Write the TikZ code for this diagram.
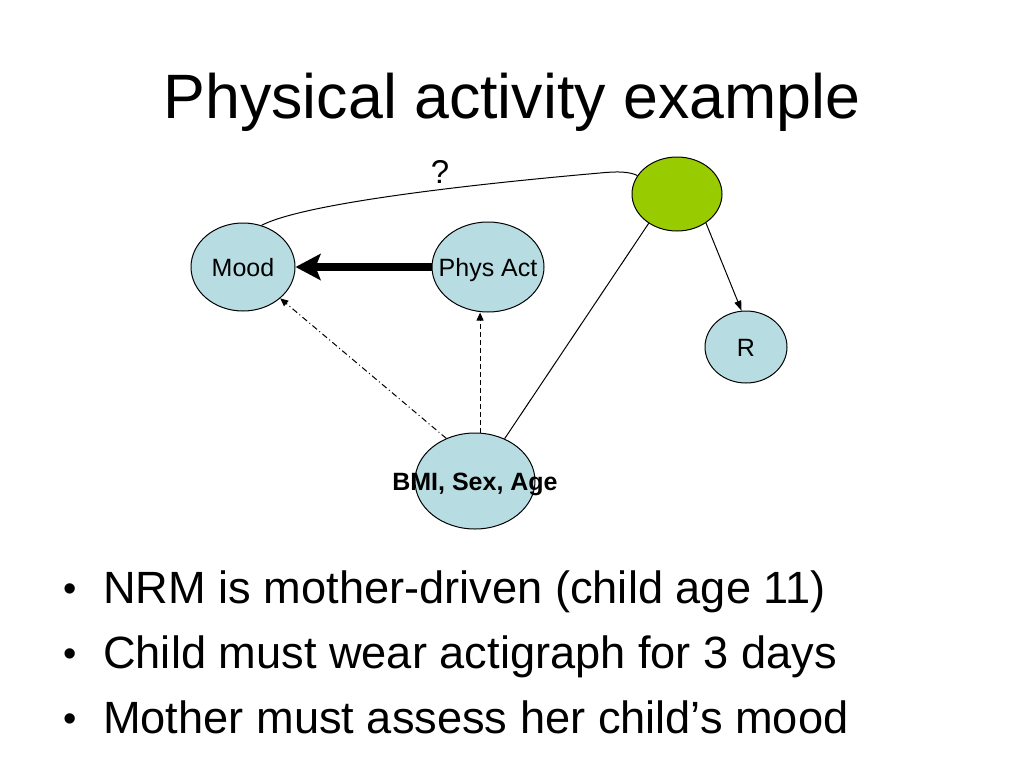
\documentclass[tikz,border=0pt]{standalone}
\usepackage{fontspec}
\setmainfont{Liberation Sans}
\usetikzlibrary{shapes.geometric,arrows.meta}
\definecolor{nodeblue}{RGB}{183,221,226}
\definecolor{nodegreen}{RGB}{153,204,0}
\begin{document}
\begin{tikzpicture}[x=1pt,y=1pt,
  bub/.style={draw,ellipse,fill=nodeblue,line width=1pt,inner sep=0pt},
  every label/.style={font=\fontsize{25}{30}\selectfont,text height=18pt,text depth=0pt,inner sep=0pt},
  link/.style={line width=1pt},
  tip/.style={-{Triangle[length=8pt,width=7pt]}},
  bul/.style={font=\fontsize{45.2}{50}\selectfont},
  dot/.style={font=\fontsize{38}{44}\selectfont}]
\useasboundingbox (0,0) rectangle (1024,-768);
\node [anchor=base,font=\fontsize{62.7}{70}\selectfont] (title) at (512,-118) {Physical activity example};
\node [bub,minimum width=104pt,minimum height=88pt,label=center:Mood] (mood) at (243,-267) {};
\node [bub,minimum width=112pt,minimum height=90pt,label=center:Phys Act] (phys) at (488,-267) {};
\node [bub,fill=nodegreen,minimum width=90pt,minimum height=74pt] (green) at (677,-194) {};
\node [bub,minimum width=82pt,minimum height=72pt,label=center:R] (r) at (746,-347) {};
\node [bub,minimum width=120pt,minimum height=96pt,label={[font=\fontsize{25}{30}\selectfont\bfseries]center:BMI, Sex, Age}] (bmi) at (475,-481) {};
\node [anchor=base,font=\fontsize{33}{36}\selectfont] (q) at (440,-183) {?};
\draw [link] (mood.66) .. controls (310,-200) and (520,-180) .. (600,-173) .. controls (620,-171) and (630,-172) .. (green.155);
\draw [line width=8pt,-{Stealth[length=25pt,width=26pt,inset=5pt]}] (phys.west) -- (mood.east);
\draw [link,tip,dash pattern=on 6pt off 3pt on 1pt off 3pt] (bmi.124) -- (mood);
\draw [link,tip,dash pattern=on 5pt off 3pt] (bmi.84) -- (bmi.84 |- phys.south);
\draw [link] (bmi.55) -- (green.226);
\draw [link,-{Triangle[length=10pt,width=7pt]}] (green.-45) -- (r.97);
\node [anchor=base,dot] (b1) at (70,-601) {•};
\node [anchor=base west,bul,inner sep=0pt] (t1) at (103,-603) {NRM is mother-driven (child age 11)};
\node [anchor=base,dot] (b2) at (70,-666) {•};
\node [anchor=base west,bul,inner sep=0pt] (t2) at (103,-668) {Child must wear actigraph for 3 days};
\node [anchor=base,dot] (b3) at (70,-731) {•};
\node [anchor=base west,bul,inner sep=0pt] (t3) at (103,-733) {Mother must assess her child’s mood};
\end{tikzpicture}
\end{document}
